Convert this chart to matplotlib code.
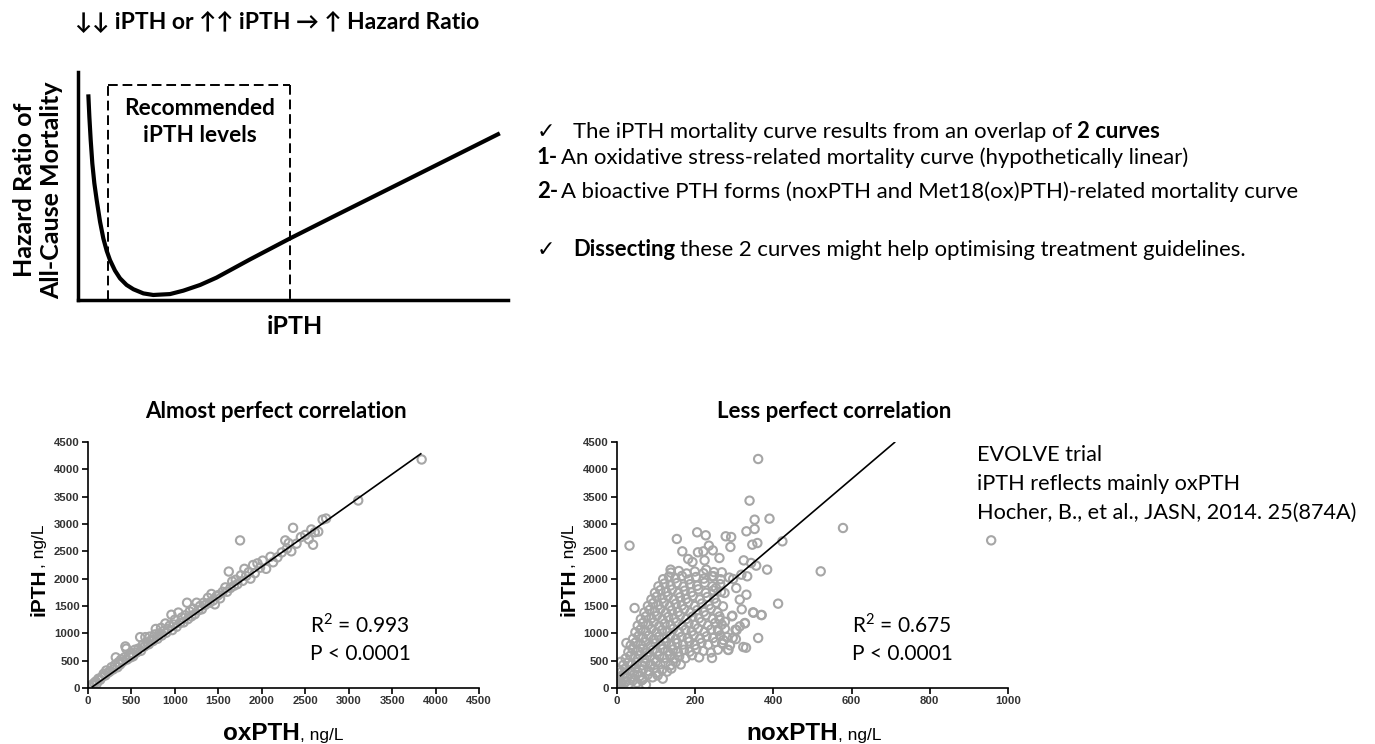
import matplotlib
matplotlib.use("Agg")
from matplotlib import pyplot as plt
import numpy as np

plt.rcParams['mathtext.fontset'] = 'custom'
plt.rcParams['mathtext.rm'] = 'Lato'

# schematic U-shaped hazard curve (axes scaled 0-100)
hr_x = [2.40, 2.64, 2.95, 3.33, 3.80, 4.34, 5.12, 5.89, 6.67, 7.44, 8.60, 9.77, 11.3, 12.9, 15.2, 17.5,
        21.4, 24.5, 28.4, 32.2, 36.1, 40.0, 49.3, 59.4, 74.9, 98.1]
hr_y = [90.2, 80.4, 70.2, 59.9, 51.2, 43.9, 34.4, 27.0, 21.6, 17.5, 12.9, 9.5, 6.6, 4.7, 2.9, 2.2,
        2.6, 4.1, 6.6, 9.8, 13.8, 17.8, 27.0, 36.6, 51.2, 73.1]
box_left, box_right, box_top = 7.0, 49.3, 94.3

# oxPTH vs iPTH (ng/L)
ox_pts = [
    (30, 20), (50, 60), (70, 90), (90, 120), (100, 80), (120, 170), (140, 150), (160, 200), (180, 260),
    (200, 230), (210, 320), (230, 280), (250, 300), (270, 380), (290, 340), (310, 420), (320, 560),
    (340, 380), (350, 470), (370, 430), (380, 520), (400, 480), (420, 560), (430, 760), (440, 720),
    (450, 520), (470, 600), (490, 560), (500, 640),
    (520, 580), (540, 700), (560, 650), (580, 720), (600, 930), (610, 680), (630, 790), (650, 760),
    (660, 930), (680, 830), (700, 800), (710, 940), (730, 880), (750, 860), (770, 980), (780, 1080),
    (800, 900), (820, 1000), (840, 1100), (850, 960), (870, 1040), (890, 1180), (900, 1010), (920, 1080),
    (940, 1140), (960, 1340), (970, 1060), (990, 1160), (1000, 1250),
    (1020, 1120), (1040, 1380), (1060, 1190), (1080, 1290), (1100, 1200), (1120, 1330), (1140, 1560),
    (1150, 1260), (1170, 1400), (1190, 1310), (1210, 1450), (1230, 1350), (1250, 1560), (1270, 1420),
    (1290, 1500), (1310, 1440), (1330, 1560), (1350, 1520), (1380, 1650), (1400, 1560), (1420, 1720),
    (1440, 1600), (1460, 1530), (1480, 1680), (1500, 1700),
    (1520, 1640), (1550, 1760), (1580, 1840), (1600, 1760), (1620, 2130), (1640, 1830), (1660, 1950),
    (1680, 1870), (1700, 1980), (1720, 1900), (1750, 2700), (1760, 2060), (1780, 1960), (1800, 2180),
    (1820, 2050), (1850, 2120), (1870, 2000), (1900, 2250), (1920, 2100), (1950, 2280), (1980, 2200),
    (2010, 2330), (2050, 2180), (2100, 2400), (2130, 2300), (2180, 2390), (2230, 2480), (2270, 2700),
    (2290, 2550), (2310, 2650), (2340, 2500), (2360, 2930), (2400, 2640), (2450, 2760), (2500, 2800),
    (2540, 2720), (2570, 2900), (2590, 2620), (2610, 2850), (2650, 2860), (2700, 3080), (2740, 3100),
    (3110, 3430), (3840, 4180),
]
ox_x = [p[0] for p in ox_pts]
ox_y = [p[1] for p in ox_pts]
ox_fit = (1.128, -36)        # slope, intercept
ox_fit_range = (50, 3830)

# noxPTH vs iPTH (ng/L)
nox_pts = [
    (3, 15), (8, 30), (2, 200), (5, 330), (10, 480), (4, 120),
    (4, 40), (9, 95), (16, 55), (23, 120), (31, 75), (40, 135), (51, 95), (63, 140), (74, 60),
    (7, 180), (14, 235), (26, 205), (37, 170), (44, 250), (58, 215), (66, 160), (79, 245), (91, 195),
    (104, 230), (117, 170),
    (12, 300), (21, 350), (34, 315), (46, 365), (53, 290), (67, 340), (82, 305), (95, 360), (101, 280),
    (115, 330), (128, 300), (139, 355),
    (16, 420), (28, 465), (39, 430), (51, 470), (64, 415), (72, 455), (87, 425), (99, 475), (111, 435),
    (124, 460), (137, 415), (150, 470), (163, 430),
    (22, 540), (34, 590), (47, 555), (59, 600), (70, 540), (84, 575), (96, 530), (108, 590), (121, 550),
    (135, 605), (147, 540), (159, 575), (175, 545), (192, 600), (210, 560),
    (29, 660), (40, 710), (54, 675), (66, 720), (77, 650), (91, 695), (103, 665), (117, 715), (130, 670),
    (143, 705), (156, 655), (171, 700), (186, 665), (203, 715), (221, 680), (240, 650), (258, 700),
    (35, 780), (47, 830), (61, 795), (73, 840), (86, 775), (98, 820), (112, 790), (126, 845), (139, 780),
    (154, 825), (169, 795), (185, 850), (199, 785), (216, 825), (233, 790), (252, 840), (270, 810), (289, 780),
    (41, 900), (55, 950), (67, 915), (81, 960), (94, 895), (107, 940), (121, 905), (136, 955), (150, 890),
    (165, 935), (181, 910), (196, 965), (212, 900), (229, 945), (246, 915), (264, 960), (281, 930),
    (47, 1020), (60, 1070), (74, 1035), (88, 1080), (101, 1015), (115, 1060), (129, 1030), (144, 1085),
    (159, 1020), (175, 1065), (191, 1035), (207, 1090), (224, 1025), (241, 1070), (259, 1040), (276, 1085),
    (53, 1140), (66, 1190), (80, 1155), (94, 1200), (108, 1135), (122, 1180), (137, 1150), (152, 1205),
    (167, 1140), (183, 1185), (199, 1155), (216, 1210), (233, 1145), (251, 1190), (268, 1160),
    (61, 1260), (74, 1310), (88, 1275), (102, 1320), (116, 1255), (131, 1300), (146, 1270), (161, 1325),
    (177, 1260), (193, 1305), (210, 1275), (227, 1330), (245, 1265), (262, 1310),
    (70, 1380), (83, 1430), (97, 1395), (111, 1440), (125, 1375), (140, 1420), (156, 1390), (172, 1445),
    (188, 1380), (205, 1425), (222, 1395), (240, 1450), (257, 1385),
    (79, 1500), (92, 1550), (106, 1515), (120, 1560), (135, 1495), (150, 1540), (166, 1510), (182, 1565),
    (199, 1500), (217, 1545), (235, 1515), (254, 1560),
    (88, 1620), (101, 1670), (116, 1635), (130, 1680), (145, 1615), (161, 1660), (177, 1630), (194, 1685),
    (212, 1620), (231, 1665), (249, 1635),
    (97, 1740), (111, 1790), (126, 1755), (141, 1800), (157, 1735), (173, 1780), (190, 1750), (208, 1805),
    (227, 1740), (246, 1785), (266, 1760),
    (106, 1860), (121, 1910), (137, 1875), (153, 1920), (170, 1855), (187, 1900), (205, 1870), (224, 1925),
    (244, 1860), (264, 1900),
    (118, 1990), (133, 2040), (149, 2005), (166, 2050), (184, 1985), (202, 2030), (222, 2000), (243, 2045),
    (265, 1990), (287, 2020),
    (138, 2110), (158, 2140), (178, 2095), (199, 2130), (221, 2100), (248, 2120),
    # sparse points / outliers
    (32, 2604), (45, 1463), (24, 823), (153, 2726), (361, 4189), (339, 3427), (352, 3079), (390, 3098),
    (578, 2927), (957, 2701), (521, 2134), (412, 1543), (423, 2683), (384, 2165), (361, 915), (369, 1335),
    (348, 1384), (323, 750), (284, 701), (243, 549), (205, 2848), (227, 2793), (278, 2775), (292, 2762),
    (290, 2580), (331, 2866), (352, 2909), (359, 2652), (346, 2622), (324, 2335), (343, 2287), (356, 2238),
    (167, 2500), (182, 2360), (193, 2305), (207, 2482), (221, 2500), (224, 2335), (245, 2518), (235, 2604),
    (262, 2378), (137, 2165), (318, 2073), (297, 1994), (333, 2043), (305, 1829), (331, 1707), (314, 1616),
    (294, 1311), (303, 1067), (314, 1128), (327, 1189), (296, 915), (269, 823), (258, 1067), (262, 1250),
    (271, 1494), (275, 1738), (253, 1829), (247, 2043), (268, 2116), (228, 2165),
    (285, 695), (330, 737), (272, 877), (304, 895), (349, 1377), (370, 1335), (295, 1322), (319, 1439),
    (327, 1182), (306, 1060), (276, 1212),
]
nox_x = [p[0] for p in nox_pts]
nox_y = [p[1] for p in nox_pts]
nox_fit = (6.09, 169)
nox_fit_range = (9, 710)

W, H = 1375, 744
fig = plt.figure(figsize=(W / 100, H / 100), dpi=100)

CAL = ['Lato', 'DejaVu Sans']
ARI = ['Liberation Sans', 'DejaVu Sans']


def fx(px):
    return px / W


def fy(py):
    return 1 - py / H


# ---- schematic ----
ax = fig.add_axes([fx(78), fy(300), fx(430), (300 - 72) / H])
ax.plot(hr_x, hr_y, color='black', lw=3, solid_capstyle='butt', solid_joinstyle='round')
dash = (0, (5, 2.5))
ax.plot([box_left, box_left], [0, box_top], color='black', lw=1.4, linestyle=dash)
ax.plot([box_left, box_right], [box_top, box_top], color='black', lw=1.4, linestyle=dash)
ax.plot([box_right, box_right], [box_top, 0], color='black', lw=1.4, linestyle=dash)
ax.set_xlim(0, 100)
ax.set_ylim(0, 100)
ax.set_xticks([])
ax.set_yticks([])
for s in ['top', 'right']:
    ax.spines[s].set_visible(False)
for s in ['left', 'bottom']:
    ax.spines[s].set_linewidth(2.5)

fig.text(fx(200), fy(122), 'Recommended\niPTH levels', ha='center', va='center', fontsize=16.3,
         fontweight='bold', family=CAL, linespacing=1.38)
fig.text(fx(75), fy(22), '↓↓ iPTH or ↑↑ iPTH → ↑ Hazard Ratio', fontsize=16.5, fontweight='bold',
         family=CAL, va='center', ha='left')
fig.text(fx(38), fy(190), 'Hazard Ratio of\nAll-Cause Mortality', rotation=90, ha='center', va='center',
         fontsize=18, fontweight='bold', family=CAL, linespacing=1.2)
fig.text(fx(295), fy(327), 'iPTH', ha='center', va='center', fontsize=18, fontweight='bold', family=CAL)

# ---- bullet text ----
ov = fig.add_axes([0, 0, 1, 1], zorder=5)
ov.axis('off')
ov.set_xlim(0, 1)
ov.set_ylim(0, 1)


def rich(x, y, parts, size=15.9):
    prev = ov.text(fx(x), fy(y), parts[0][0], fontsize=size, fontweight=parts[0][1],
                   family=CAL, va='center', ha='left')
    for txt, wt, gap in parts[1:]:
        prev = ov.annotate(txt, xy=(1, 0), xycoords=prev, xytext=(gap, 0), textcoords='offset points',
                           fontsize=size, fontweight=wt, family=CAL, va='bottom', ha='left')


rich(537, 132, [('✓', 'normal'), ('The iPTH mortality curve results from an overlap of', 'normal', 12.5),
                ('2 curves', 'bold', 3.5)])
rich(537, 158, [('1-', 'bold'), ('An oxidative stress-related mortality curve (hypothetically linear)', 'normal', 2)])
rich(537, 191, [('2-', 'bold'), ('A bioactive PTH forms (noxPTH and Met18(ox)PTH)-related mortality curve',
                                 'normal', 2)])
rich(537, 250, [('✓', 'normal'), ('Dissecting', 'bold', 12.5),
                ('these 2 curves might help optimising treatment guidelines.', 'normal', 3.5)])


# ---- scatter panels ----
def scatter_panel(left, xs, ys, fit, frng, xmax, xstep, title, title_x, r2, stat_x, xname, xsplit, ysplit_x):
    a = fig.add_axes([fx(left), fy(688), fx(391), 246 / H])
    a.scatter(xs, ys, s=36, facecolors='none', edgecolors='#a6a6a6', linewidths=1.5, zorder=2)
    lx = np.array(frng)
    a.plot(lx, fit[0] * lx + fit[1], color='black', lw=1.2, zorder=3)
    a.set_xlim(0, xmax)
    a.set_ylim(0, 4500)
    a.set_xticks(np.arange(0, xmax + 1, xstep))
    a.set_yticks(np.arange(0, 4501, 500))
    for s in ['top', 'right']:
        a.spines[s].set_visible(False)
    for s in ['left', 'bottom']:
        a.spines[s].set_linewidth(1.2)
    a.tick_params(direction='out', length=4, width=1.2, pad=2, labelsize=8.2, labelcolor='#333333')
    for lab in a.get_xticklabels() + a.get_yticklabels():
        lab.set_family(ARI)
        lab.set_fontweight('bold')
    fig.text(fx(title_x), fy(412), title, fontsize=16, fontweight='bold', family=CAL, ha='center', va='center')
    fig.text(fx(stat_x), fy(625), 'R$^{2}$ = ' + r2, fontsize=15, family=CAL, va='center')
    fig.text(fx(stat_x), fy(654), 'P < 0.0001', fontsize=15, family=CAL, va='center')
    fig.text(fx(xsplit), fy(740), xname, fontsize=17.5, fontweight='bold', family=ARI, ha='right', va='baseline')
    fig.text(fx(xsplit), fy(740), ', ng/L', fontsize=12.5, family=ARI, ha='left', va='baseline')
    fig.text(fx(ysplit_x), fy(568), 'iPTH', fontsize=15, fontweight='bold', family=ARI, ha='right',
             va='baseline', rotation=90, rotation_mode='anchor')
    fig.text(fx(ysplit_x), fy(568), ', ng/L', fontsize=12.5, family=ARI, ha='left',
             va='baseline', rotation=90, rotation_mode='anchor')
    return a


scatter_panel(88, ox_x, ox_y, ox_fit, ox_fit_range, 4500, 500, 'Almost perfect correlation', 276, '0.993',
              310, 'oxPTH', 300, 44)
scatter_panel(617, nox_x, nox_y, nox_fit, nox_fit_range, 1000, 200, 'Less perfect correlation', 834, '0.675',
              852, 'noxPTH', 838, 574)

for i, line in enumerate(['EVOLVE trial', 'iPTH reflects mainly oxPTH', 'Hocher, B., et al., JASN, 2014. 25(874A)']):
    fig.text(fx(977), fy(455 + 29 * i), line, fontsize=15.6, family=CAL, va='center')

fig.savefig('out.png', dpi=100)
